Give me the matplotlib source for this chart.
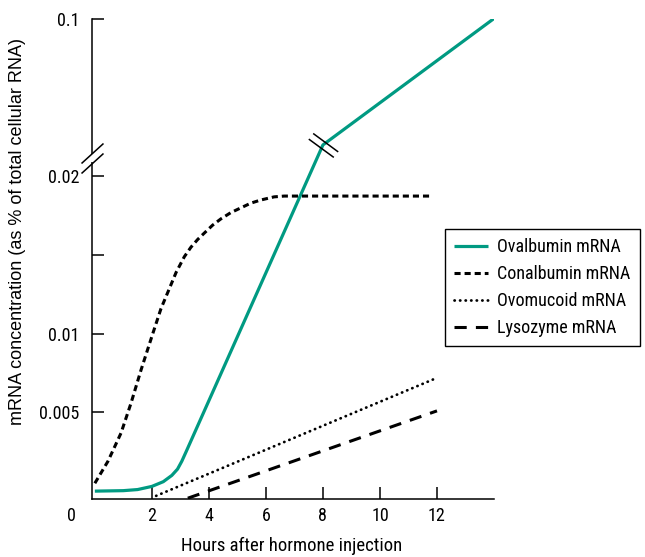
import numpy as np
import matplotlib
matplotlib.use("Agg")
import matplotlib.pyplot as plt
from matplotlib.path import Path

# hours after injection / mRNA as fraction of total RNA
oval_h = [0.0, 1.0, 1.5, 2.0, 2.4, 2.7, 2.9, 3.05, 3.2, 8.0, 14.0]
oval_v = [0.0, 0.00003, 0.0001, 0.0003, 0.0006, 0.001, 0.0014, 0.0019, 0.0025, 0.022, 0.1]

conal_h = [0.0, 0.46, 0.92, 1.27, 1.62, 2.03, 2.32, 2.62, 2.85, 3.14, 3.37, 3.61,
           3.84, 4.13, 4.42, 4.77, 5.12, 5.47, 5.82, 6.29, 6.64, 11.85]
conal_v = [0.0005, 0.0019, 0.0037, 0.0056, 0.0077, 0.0100, 0.0116, 0.0129, 0.0139,
           0.0149, 0.0155, 0.0160, 0.0164, 0.0169, 0.0173, 0.0177, 0.0180, 0.0183,
           0.0185, 0.0187, 0.01875, 0.01875]

ovom_h = [2.15, 12.0]
ovom_v = [-0.0003, 0.0072]

lyso_h = [3.26, 12.0]
lyso_v = [-0.00045, 0.0051]

xticks = [2, 4, 6, 8, 10, 12]
yticks = [0.005, 0.01, 0.015, 0.02, 0.1]
ytick_labels = ["0.005", "0.01", "", "0.02", "0.1"]

labels = ["Ovalbumin mRNA", "Conalbumin mRNA", "Ovomucoid mRNA", "Lysozyme mRNA"]

TEAL = "#009a82"
BREAK = 0.022       # above this value the axis is squeezed
SQUEEZE = 0.103
AXIS_BREAK = 0.0212


def fwd(v):
    v = np.asarray(v, dtype=float)
    return np.where(v <= BREAK, v, BREAK + (v - BREAK) * SQUEEZE)


def inv(u):
    u = np.asarray(u, dtype=float)
    return np.where(u <= BREAK, u, BREAK + (u - BREAK) / SQUEEZE)


narrow = ["Liberation Sans Narrow", "Roboto Condensed", "DejaVu Sans Condensed",
          "Roboto", "DejaVu Sans"]

fig = plt.figure(figsize=(6.45, 5.57), dpi=100)
ax = fig.add_axes([92 / 645, 1 - 499 / 557, (494 - 92) / 645, (499 - 18.5) / 557])
ax.set_yscale("function", functions=(fwd, inv))

l1, = ax.plot(oval_h, oval_v, color=TEAL, lw=2.3, solid_capstyle="butt")
l2, = ax.plot(conal_h, conal_v, color="black", lw=2.2, dashes=(2, 1.3))
l3, = ax.plot(ovom_h, ovom_v, color="black", lw=2.0, dashes=(0.1, 1.9),
              dash_capstyle="round")
l4, = ax.plot(lyso_h, lyso_v, color="black", lw=2.2, dashes=(4, 3))

ax.set_xlim(-0.1, 14.0)
ax.set_ylim(-0.0005, 0.1)

for s in ["top", "right"]:
    ax.spines[s].set_visible(False)
for s in ["left", "bottom"]:
    ax.spines[s].set_linewidth(1.1)

ax.set_xticks(xticks)
ax.set_xticklabels([str(t) for t in xticks], family=narrow, fontsize=13)
ax.set_yticks(yticks)
ax.set_yticklabels(ytick_labels, family=narrow, fontsize=13)
ax.minorticks_off()
ax.tick_params(axis="x", direction="in", length=8.5, width=1.1, pad=5.5)
ax.tick_params(axis="y", direction="in", length=8.5, width=1.1, pad=9)

# origin label
ax.annotate("0", xy=(0, 0), xycoords="axes fraction", xytext=(-15, -12.5),
            textcoords="offset points", ha="center", va="center",
            family=narrow, fontsize=13)

# axis break marks
axis_slash = Path([(-11, -5), (11, 15), (-11, -15), (11, 5)],
                  [Path.MOVETO, Path.LINETO, Path.MOVETO, Path.LINETO])
ax.plot([-0.1], [AXIS_BREAK], marker="|", ms=6, mew=3, color="white",
        clip_on=False, zorder=5)
ax.plot([-0.1], [AXIS_BREAK], marker=axis_slash, ms=21.6, mew=1.1,
        mec="black", mfc="none", ls="none", clip_on=False, zorder=6)

# break marks on the ovalbumin line
brk = oval_h.index(8.0)
line_slash = Path([(-10.3, 12), (14.7, -6.4), (-14.7, 6.4), (10.3, -11.9)],
                  [Path.MOVETO, Path.LINETO, Path.MOVETO, Path.LINETO])
ax.plot([oval_h[brk]], [oval_v[brk]], marker=line_slash, ms=21.2, mew=1.1,
        mec="black", mfc="none", ls="none", clip_on=False, zorder=6)

fig.text(292 / 645, 1 - 546 / 557, "Hours after hormone injection",
         ha="center", va="center", family=narrow, fontsize=13.5)
fig.text(18 / 645, 1 - 232 / 557, "mRNA concentration (as % of total cellular RNA)",
         ha="center", va="center", rotation=90, family="Liberation Sans", fontsize=13)

leg = fig.legend([l1, l2, l3, l4], labels, loc="upper left",
                 bbox_to_anchor=(445 / 645, 1 - 229 / 557), borderaxespad=0,
                 fancybox=False, edgecolor="black", framealpha=1,
                 prop={"family": narrow, "size": 13}, handlelength=1.9,
                 handletextpad=0.5, labelspacing=0.5, borderpad=0.5)
leg.get_frame().set_linewidth(1.0)

fig.savefig("out.png", dpi=100)
